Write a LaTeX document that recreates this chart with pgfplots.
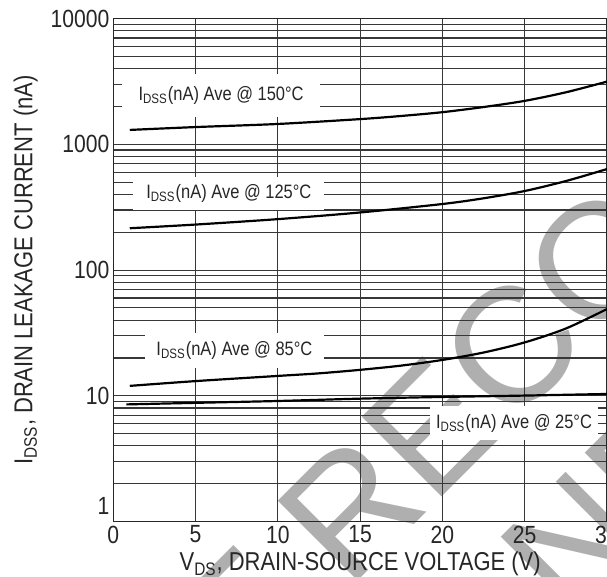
\documentclass[border=0pt]{standalone}
\usepackage{fontspec}
\setmainfont{Liberation Sans}[FakeStretch=0.85]
\newfontfamily\wmfont{Liberation Sans}
\usepackage{pgfplots}
\pgfplotsset{compat=1.18}
\definecolor{wm}{RGB}{175,175,175}
\definecolor{gridc}{RGB}{55,55,55}
\begin{document}
\begin{tikzpicture}
\useasboundingbox (-56.75bp,-27.25bp) rectangle (247.25bp,261.25bp);
\clip (-56.75bp,-27.25bp) rectangle (247.25bp,261.25bp);
\node[rotate=45, text=wm, align=center, font=\wmfont\fontsize{82.5}{92}\selectfont, inner sep=0pt] at (295bp,117.75bp) {NOT RECOMMENDED\\FOR NEW DESIGN};
\begin{axis}[
  at={(0,0)}, anchor=south west,
  scale only axis, width=247.25bp, height=252bp,
  xmin=0, xmax=30, ymin=1, ymax=10000, ymode=log,
  xtick={0,5,...,30},
  ytick={1,10,100,1000,10000},
  yticklabels={\raisebox{16bp}{1},10,100,1000,10000},
  /pgf/number format/assume math mode=true,
  xmajorgrids, ymajorgrids, yminorgrids,
  major tick length=0pt, minor tick length=0pt,
  grid style={gridc, line width=0.55bp},
  minor grid style={gridc, line width=0.55bp},
  axis line style={black!85, line width=0.8bp},
  tick label style={font=\fontsize{12.5}{14}\selectfont, text=black!85},
  xticklabel style={yshift=1.5bp},
  yticklabel style={xshift=1.5bp},
  label style={font=\fontsize{13}{15}\selectfont, text=black!85},
  xlabel={V\textsubscript{DS}, DRAIN-SOURCE VOLTAGE (V)},
  ylabel={I\textsubscript{DSS}, DRAIN LEAKAGE CURRENT (nA)},
  xlabel style={yshift=2.5bp},
  ylabel style={yshift=-0.5bp},
  clip=true,
]
\addplot[black, line width=1.1bp, smooth] coordinates {(1,1300) (5,1370) (10,1450) (15,1585) (17.5,1679) (20,1799) (22.5,1977) (25,2213) (27.5,2588) (30,3148)};
\addplot[black, line width=1.1bp, smooth] coordinates {(1,215) (5,230) (10,254) (15,287) (20,335) (22.5,372) (25,425) (27.5,510) (30,635)};
\addplot[black, line width=1.1bp, smooth] coordinates {(1,12.0) (5,13.1) (10,14.4) (12.5,15.1) (15,16.1) (17.5,17.4) (20,19.3) (22.5,22.1) (25,26.6) (27.5,34.3) (30,49.0)};
\addplot[black, line width=1.1bp, smooth] coordinates {(0.8,8.55) (5,8.8) (10,9.1) (15,9.5) (20,9.8) (25,10.05) (30,10.35)};
\tikzset{lbl/.style={fill=white, inner sep=0pt, text=black!85, font=\fontsize{9.75}{11}\selectfont}}
\node[lbl, minimum width=99.5bp, minimum height=21.5bp] at (axis cs:6.55,2450) {I\textsubscript{DSS}(nA) Ave @ 150°C};
\node[lbl, minimum width=95.5bp, minimum height=16.5bp] at (axis cs:7.02,408) {I\textsubscript{DSS}(nA) Ave @ 125°C};
\node[lbl, minimum width=90bp, minimum height=17.5bp] at (axis cs:7.36,22.8) {I\textsubscript{DSS}(nA) Ave @ 85°C};
\node[lbl, minimum width=84.5bp, minimum height=17bp] at (axis cs:24.35,6.05) {I\textsubscript{DSS}(nA) Ave @ 25°C};
\end{axis}
\end{tikzpicture}
\end{document}
